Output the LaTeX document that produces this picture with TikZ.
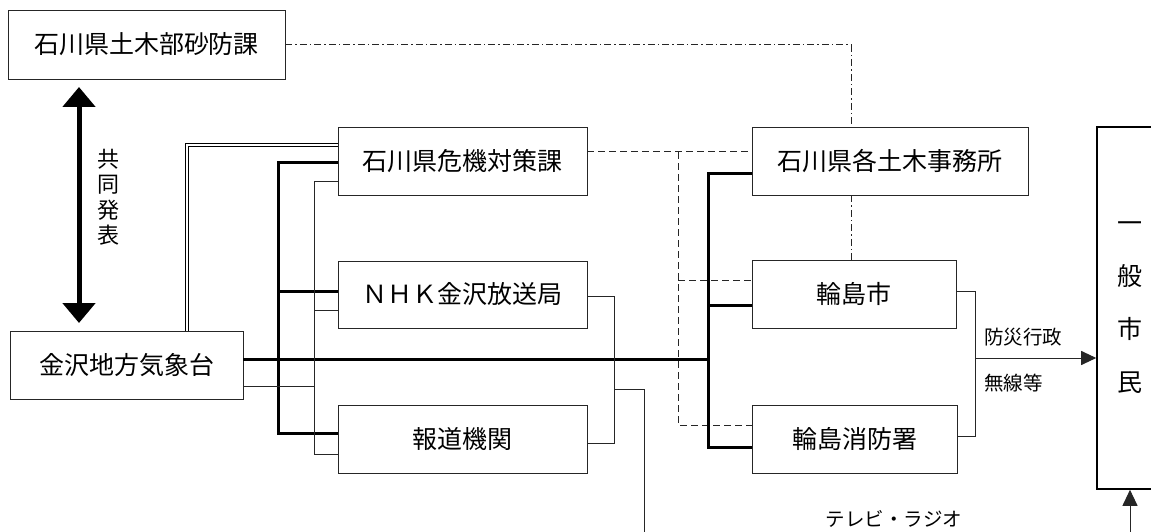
\documentclass[tikz,border=0pt]{standalone}
\usepackage{fontspec}
\setmainfont{Noto Sans CJK JP}
\usetikzlibrary{arrows.meta}
\tikzset{
  boxnode/.style={draw=black!85,line width=0.9pt,inner sep=0pt,font=\fontsize{25}{29}\selectfont},
  thickline/.style={line width=3pt,black},
  thinline/.style={line width=1pt,black!85},
  dashline/.style={line width=1pt,black!85,dash pattern=on 7pt off 4pt},
  dotdash/.style={line width=1pt,black!85,dash pattern=on 7pt off 3pt on 1.5pt off 3pt},
  dblline/.style={line width=0.8pt,double=white,double distance=2.6pt,black},
  lbl/.style={inner sep=0pt,font=\fontsize{19.5}{23}\selectfont},
}
\begin{document}
\begin{tikzpicture}[x=1pt,y=-1pt]
\useasboundingbox (0,0) rectangle (1151,532);
\clip (0,0) rectangle (1151,532);
% boxes
\node[boxnode,minimum width=277pt,minimum height=69pt] (sabo) at (146.5,44.5) {石川県土木部砂防課};
\node[boxnode,minimum width=233pt,minimum height=68pt] (kisho) at (126.5,365) {金沢地方気象台};
\node[boxnode,minimum width=249pt,minimum height=68pt] (kiki) at (462.5,161) {石川県危機対策課};
\node[boxnode,minimum width=249pt,minimum height=67pt] (nhk) at (462.5,294.5) {ＮＨＫ金沢放送局};
\node[boxnode,minimum width=249pt,minimum height=68pt] (hodo) at (462.5,439) {報道機関};
\node[boxnode,minimum width=276pt,minimum height=68pt] (doboku) at (890,161) {石川県各土木事務所};
\node[boxnode,minimum width=204pt,minimum height=68pt] (shi) at (854,294) {輪島市};
\node[boxnode,minimum width=205pt,minimum height=68pt] (shobo) at (854.5,439) {輪島消防署};
\node[boxnode,line width=1.6pt,draw=black,minimum width=66pt,minimum height=362pt,align=center,
      font=\fontsize{25}{53}\selectfont] (shimin) at (1130,308) {一\\般\\市\\民};
% labels
\node[inner sep=0pt,align=center,font=\fontsize{22}{25.5}\selectfont] (kyodo) at (108,197) {共\\同\\発\\表};
\node[lbl,anchor=west] (bousai) at (984,337) {防災行政};
\node[lbl,anchor=west] (musen) at (984,383) {無線等};
\node[lbl] (tv) at (894,519) {テレビ・ラジオ};
% coordinates
\coordinate (lbusT) at (278,162);
\coordinate (lbusB) at (278,433);
\coordinate (tbusT) at (314,181);
\coordinate (tbusB) at (314,454);
\coordinate (rbusT) at (708,173);
\coordinate (rbusB) at (708,447);
\coordinate (nbusT) at (614,296);
\coordinate (nbusB) at (614,443);
\coordinate (nbusM) at (614,389);
\coordinate (tvdown) at (644,540);
\coordinate (wbusT) at (975,291);
\coordinate (wbusB) at (975,436);
\coordinate (wbusM) at (975,358);
\coordinate (dvT) at (678,152);
\coordinate (dvB) at (678,425);
\coordinate (sdc) at (851,45);
\coordinate (dblc) at (187,145);
\coordinate (arrUp) at (79,87);
\coordinate (arrDn) at (79,323);
\coordinate (botsrc) at (1130,545);
% double-headed thick arrow
\draw[line width=5pt,{Triangle[length=20pt,width=32pt]}-{Triangle[length=20pt,width=32pt]}] (arrUp) -- (arrDn);
% double line
\draw[dblline] (kiki.west |- dblc) -- (dblc) -- (dblc |- kisho.north);
% dash-dot
\draw[dotdash] (sabo.east |- sdc) -- (sdc) -- (sdc |- doboku.north);
\draw[dotdash] (sdc |- doboku.south) -- (sdc |- shi.north);
% dashed
\draw[dashline] (kiki.east |- dvT) -- (doboku.west |- dvT);
\draw[dashline] (dvT) -- (dvB) -- (shobo.west |- dvB);
\draw[dashline] (dvT |- 0,280) -- (shi.west |- 0,280);
% thick lines
\draw[thickline] (kisho.east |- 0,359) -- (rbusT |- 0,359);
\draw[thickline] (kiki.west |- lbusT) -- (lbusT) -- (lbusB) -- (hodo.west |- lbusB);
\draw[thickline] (lbusT |- 0,291) -- (nhk.west |- 0,291);
\draw[thickline] (doboku.west |- rbusT) -- (rbusT) -- (rbusB) -- (shobo.west |- rbusB);
\draw[thickline] (rbusT |- 0,305) -- (shi.west |- 0,305);
% thin lines
\draw[thinline] (kisho.east |- 0,386) -- (tbusT |- 0,386);
\draw[thinline] (kiki.west |- tbusT) -- (tbusT) -- (tbusB) -- (hodo.west |- tbusB);
\draw[thinline] (tbusT |- 0,310) -- (nhk.west |- 0,310);
\draw[thinline] (nhk.east |- nbusT) -- (nbusT) -- (nbusB) -- (hodo.east |- nbusB);
\draw[thinline] (nbusM) -- (tvdown |- nbusM) -- (tvdown);
\draw[thinline] (shi.east |- wbusT) -- (wbusT) -- (wbusB) -- (shobo.east |- wbusB);
\draw[thinline,-{Triangle[length=15pt,width=14pt]}] (wbusM) -- (shimin.west |- wbusM);
\draw[thinline,-{Triangle[length=16pt,width=15pt]}] (botsrc) -- (shimin.south);
\end{tikzpicture}
\end{document}
